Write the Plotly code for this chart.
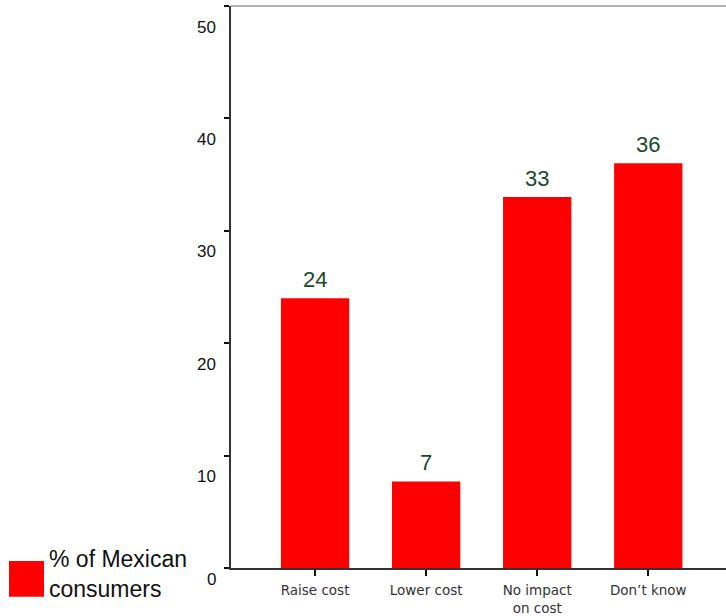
import plotly.graph_objects as go

categories = ["Raise cost", "Lower cost", "No impact<br>on cost", "Don\u2019t know"]
values = [24, 7.7, 33, 36]
value_labels = ["24", "7", "33", "36"]
y_tick_vals = [0, 10, 20, 30, 40, 50]
y_tick_labels = ["0", "10", "20", "30", "40", "50"]
legend_label = "% of Mexican<br>consumers"

RED = "#ff0000"
GREEN = "#1a4a2a"
FONT = "Liberation Sans, Arial, sans-serif"

W, H = 726, 616
l, r, t, b = 231, 0, 6, 44
pw, ph = W - l - r, H - t - b
def px_to_paper_x(px):
    return (px - l) / pw
def px_to_paper_y(py):
    return (H - b - py) / ph

fig = go.Figure()
fig.add_trace(go.Bar(
    x=list(range(len(categories))), y=values,
    marker=dict(color=RED, line=dict(width=0)),
    width=0.615, showlegend=False, hoverinfo="skip",
))

annotations = []
for i, (v, txt) in enumerate(zip(values, value_labels)):
    annotations.append(dict(
        x=i, y=v, xref="x", yref="y", text=txt, showarrow=False,
        yanchor="bottom", yshift=4,
        font=dict(family=FONT, size=22, color=GREEN),
    ))
for v, txt in zip(y_tick_vals, y_tick_labels):
    annotations.append(dict(
        x=0, y=v, xref="paper", yref="y", text=txt, showarrow=False,
        xanchor="right", yanchor="middle", xshift=-13,
        yshift=(-11 if v == 0 else -21),
        font=dict(family=FONT, size=17, color="#111111"),
    ))
annotations.append(dict(
    x=px_to_paper_x(47), y=px_to_paper_y(578), xref="paper", yref="paper",
    text=legend_label, showarrow=False,
    xanchor="left", yanchor="middle", align="left",
    font=dict(family=FONT, size=23, color="#111111"),
))

fig.update_layout(
    width=W, height=H,
    margin=dict(l=l, r=r, t=t, b=b),
    paper_bgcolor="white", plot_bgcolor="white",
    xaxis=dict(
        range=[-0.757, 3.70],
        tickmode="array", tickvals=list(range(len(categories))), ticktext=categories,
        ticks="outside", ticklen=6, tickwidth=2, tickcolor="#111111",
        showline=True, linecolor="#333333", linewidth=1.5,
        showgrid=False, zeroline=False,
        tickfont=dict(family="DejaVu Sans, sans-serif", size=13.5, color="#333333"),
        ticklabelstandoff=3,
    ),
    yaxis=dict(
        range=[0, 50],
        tickmode="array", tickvals=y_tick_vals, ticktext=["" for _ in y_tick_vals],
        ticks="outside", ticklen=5, tickwidth=2, tickcolor="#111111",
        showline=True, linecolor="#333333", linewidth=1.5,
        showgrid=False, zeroline=False,
    ),
    annotations=annotations,
    shapes=[
        dict(type="line", xref="paper", yref="paper", x0=0, x1=1, y0=1, y1=1,
             line=dict(color="#999999", width=1.5)),
        dict(type="rect", xref="paper", yref="paper",
             x0=px_to_paper_x(9), x1=px_to_paper_x(44),
             y0=px_to_paper_y(601), y1=px_to_paper_y(565),
             fillcolor=RED, line=dict(width=0)),
    ],
)

fig.write_html(
    "out.html",
    config={"displayModeBar": False},
    post_script="document.body.style.margin='0';document.body.style.padding='0';document.body.style.overflow='hidden';",
)
